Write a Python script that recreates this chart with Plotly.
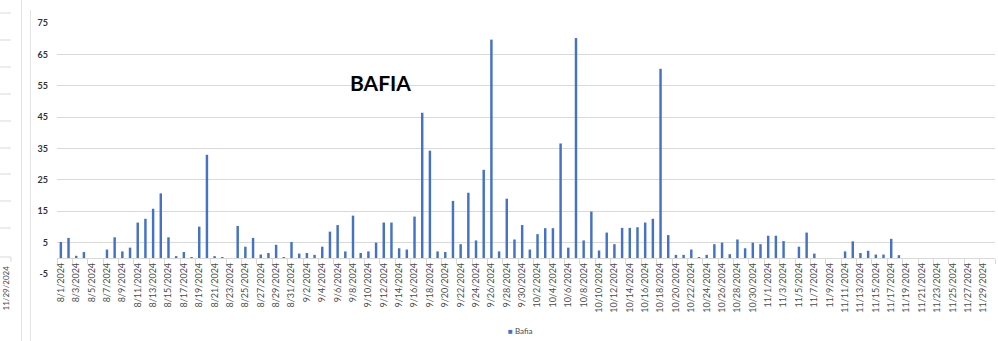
import pandas as pd
import plotly.graph_objects as go

# Daily values, one list per month
aug_values = [5.2, 6.5, 0.8, 2.0, 0, 0, 2.8, 6.7, 2.2, 3.4, 11.4, 12.6, 15.8, 20.7, 6.7, 0.7,
              2.0, 0.3, 10.1, 33.0, 0.7, 0.3, 0, 10.3, 3.7, 6.5, 1.2, 1.7, 4.3, 0.2, 5.2]
sep_values = [1.5, 1.7, 1.1, 3.7, 8.5, 10.6, 2.2, 13.6, 1.7, 2.2, 5.0, 11.4, 11.4, 3.2, 2.8,
              13.3, 46.4, 34.3, 2.2, 2.0, 18.3, 4.5, 20.9, 5.7, 28.2, 69.7, 2.2, 19.0, 6.0, 10.6]
oct_values = [2.8, 7.7, 9.6, 9.6, 36.6, 3.4, 70.2, 5.7, 14.9, 2.5, 8.2, 4.5, 9.7, 9.7, 9.9, 11.4,
              12.6, 60.4, 7.4, 1.1, 1.1, 2.8, 0.2, 1.1, 4.5, 5.0, 1.3, 6.0, 3.2, 5.0, 4.5]
nov_values = [7.2, 7.2, 5.5, 0, 3.7, 8.2, 1.5, 0, 0, 0, 2.2, 5.4, 1.7, 2.4, 1.2, 1.2, 6.2, 1.0,
              0, 0, 0, 0, 0, 0, 0, 0, 0, 0, 0, 0]

dates = pd.date_range("2024-08-01", "2024-11-30", freq="D")
date_labels = [f"{d.month}/{d.day}/{d.year}" for d in dates]
values = aug_values + sep_values + oct_values + nov_values

series_name = "Bafia"
chart_title = "BAFIA"
y_ticks = list(range(-5, 76, 10))

BLUE = "#4472C4"
GRID = "#D9D9D9"
TEXT = "#4A4A4A"

W, H = 998, 341
ML, MR, MT, MB = 57, 3, 23, 67
PW, PH = W - ML - MR, H - MT - MB


def px_x(p):
    return (p - ML) / PW


def px_y(p):
    return (H - MB - p) / PH


fig = go.Figure()
fig.add_trace(go.Bar(x=date_labels, y=values, name=series_name,
                     marker=dict(color=BLUE, line=dict(width=0)), showlegend=False))

fig.update_layout(
    width=W, height=H,
    margin=dict(l=ML, r=MR, t=MT, b=MB),
    paper_bgcolor="white", plot_bgcolor="white",
    bargap=0.68,
    font=dict(family="Lato, Open Sans, sans-serif", color=TEXT),
    xaxis=dict(
        type="category", categoryorder="array", categoryarray=date_labels,
        anchor="free", position=5 / 80,
        tickmode="linear", tick0=0, dtick=2, tickson="boundaries",
        ticks="outside", ticklen=5, tickcolor=GRID, tickwidth=1,
        tickangle=-90, tickfont=dict(size=9, color=TEXT),
        showline=True, linecolor=GRID, linewidth=1,
        showgrid=False, zeroline=False,
    ),
    yaxis=dict(
        range=[-5, 75], tickmode="array", tickvals=y_ticks,
        ticktext=[f"<b>{v}</b>" for v in y_ticks],
        tickfont=dict(size=9, color="#333333"),
        showgrid=True, gridcolor=GRID, gridwidth=1,
        zeroline=False, showline=False, ticks="", ticklabelstandoff=8,
    ),
)

# Chart title
fig.add_annotation(text=f"<b>{chart_title}</b>", xref="paper", yref="paper",
                   x=px_x(380), y=px_y(82), xanchor="center", yanchor="middle",
                   showarrow=False, font=dict(size=21, color="black", family="Lato"))

# Legend entry
fig.add_annotation(text=f'<span style="color:{BLUE}">■</span> {series_name}',
                   xref="paper", yref="paper", x=px_x(520), y=px_y(331),
                   xanchor="center", yanchor="middle", showarrow=False,
                   font=dict(size=8, color=TEXT))

# Edge of the neighbouring chart on the left
shapes = []
for gy in [13, 40, 67, 94, 121, 148, 174, 201, 228, 257]:
    shapes.append(dict(type="line", xref="paper", yref="paper",
                       x0=px_x(0), x1=px_x(11), y0=px_y(gy), y1=px_y(gy),
                       line=dict(color=GRID, width=1)))
shapes.append(dict(type="line", xref="paper", yref="paper", x0=px_x(11), x1=px_x(11),
                   y0=px_y(257), y1=px_y(262), line=dict(color=GRID, width=1)))
shapes.append(dict(type="line", xref="paper", yref="paper", x0=px_x(21.5), x1=px_x(21.5),
                   y0=px_y(0), y1=px_y(341), line=dict(color="#E3E3E3", width=1)))
shapes.append(dict(type="line", xref="paper", yref="paper", x0=px_x(30.5), x1=px_x(30.5),
                   y0=px_y(10), y1=px_y(341), line=dict(color="#E3E3E3", width=1)))
fig.update_layout(shapes=shapes)
fig.add_annotation(text="11/29/2024", xref="paper", yref="paper", x=px_x(5), y=px_y(264),
                   xanchor="center", yanchor="top", textangle=-90, showarrow=False,
                   font=dict(size=8, color=TEXT))

fig.write_html("out.html")
